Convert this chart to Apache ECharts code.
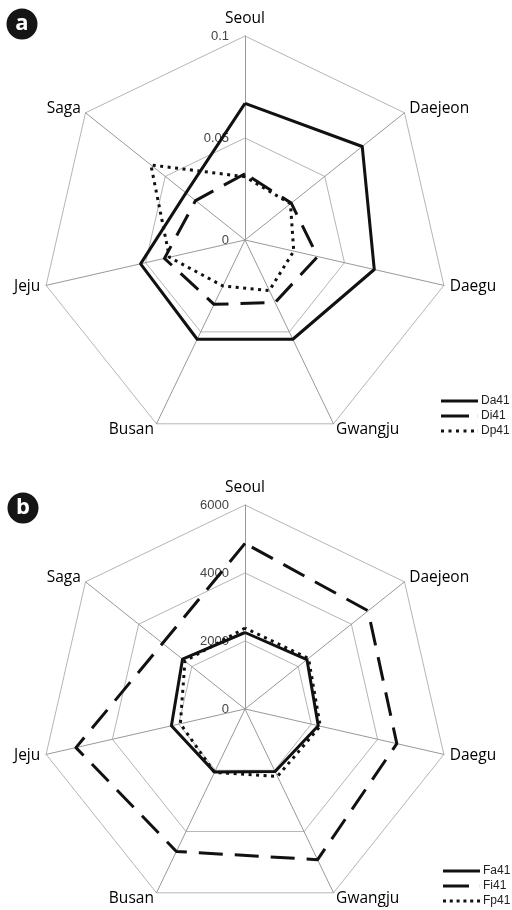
<!DOCTYPE html>
<html>
<head>
<meta charset="utf-8">
<script src="https://cdn.jsdelivr.net/npm/echarts@6/dist/echarts.min.js"></script>
<style>
html,body{margin:0;padding:0;background:#fff;}
#main{width:512px;height:910px;}
</style>
</head>
<body>
<div id="main"></div>
<script>
// Indicators, in the order ECharts lays them out (counter-clockwise from the top)
const cities = ['Seoul', 'Saga', 'Jeju', 'Busan', 'Gwangju', 'Daegu', 'Daejeon'];

// Panel a
const ticksA = [0, 0.05, 0.1];
const da41 = [0.067, 0.037, 0.0525, 0.054, 0.054, 0.065, 0.0735];
const di41 = [0.0325, 0.031, 0.0405, 0.035, 0.034, 0.0365, 0.029];
const dp41 = [0.031, 0.059, 0.038, 0.025, 0.0275, 0.0245, 0.0285];

// Panel b
const ticksB = [0, 2000, 4000, 6000];
const fa41 = [2250, 2350, 2220, 2060, 2040, 2210, 2330];
const fi41 = [4870, 3100, 5100, 4650, 4920, 4580, 4630];
const fp41 = [2380, 2260, 1950, 2070, 2200, 2270, 2390];

const namesA = ['Da41', 'Di41', 'Dp41'];
const namesB = ['Fa41', 'Fi41', 'Fp41'];

const chart = echarts.init(document.getElementById('main'), null, {renderer: 'canvas'});

function makeRadar(center, ticks) {
  const max = ticks[ticks.length - 1];
  return {
    center: center,
    radius: 204,
    startAngle: 90,
    shape: 'polygon',
    splitNumber: ticks.length - 1,
    indicator: cities.map((c, i) => i === 0
      ? {name: c, min: ticks[0], max: max, axisLabel: {show: true}}
      : {name: c, min: ticks[0], max: max}),
    axisName: {
      color: '#000',
      fontSize: 15.5,
      fontFamily: 'Open Sans',
      formatter: function (n) { return n === 'Seoul' ? '{s|' + n + '}' : n; },
      rich: {s: {fontSize: 15.5, fontFamily: 'Open Sans', color: '#000', padding: [0, 0, 3, 0]}}
    },
    nameGap: 6,
    axisLine: {lineStyle: {color: '#999', width: 1}},
    splitLine: {lineStyle: {color: '#b5b5b5', width: 1}},
    splitArea: {show: false},
    axisTick: {show: false},
    axisLabel: {
      show: false,
      color: '#444',
      fontSize: 13,
      fontFamily: 'Liberation Sans',
      margin: 16,
      formatter: function (v) { return String(v); }
    }
  };
}

const solid = {color: '#111', width: 3, type: 'solid'};
const dashed = {color: '#111', width: 3, type: [24, 12]};
const dotted = {color: '#111', width: 3, type: [3, 4.5]};

function series(radarIndex, name, values, ls) {
  return {
    type: 'radar',
    radarIndex: radarIndex,
    symbol: 'none',
    silent: true,
    itemStyle: {color: '#111'},
    lineStyle: ls,
    data: [{name: name, value: values}],
    z: 3
  };
}

const iconSolid = 'path://M0,0H37V3H0Z';
const iconDashA = 'path://M0,0H28V3H0Z M36.9,0H37V3H36.9Z';
const iconDotA = 'path://M0,0H3V3H0Z M7.5,0H10.5V3H7.5Z M15,0H18V3H15Z M22.5,0H25.5V3H22.5Z M30,0H33V3H30Z M36.9,0H37V3H36.9Z';
const iconDashB = 'path://M0,0H26V3H0Z M36.9,0H37V3H36.9Z';
const iconDotB = 'path://M0,0H3V3H0Z M6.8,0H9.8V3H6.8Z M13.6,0H16.6V3H13.6Z M20.4,0H23.4V3H20.4Z M27.2,0H30.2V3H27.2Z M34,0H37V3H34Z';

function legend(names, icons, left, top) {
  return {
    orient: 'vertical',
    left: left,
    top: top,
    padding: 0,
    itemGap: 3,
    itemWidth: 37,
    itemHeight: 3,
    selectedMode: false,
    itemStyle: {color: '#111', borderWidth: 0},
    textStyle: {color: '#222', fontSize: 12, fontFamily: 'Liberation Sans', padding: [0, 0, 0, -2]},
    data: names.map((n, i) => ({name: n, icon: icons[i]}))
  };
}

function badge(letter, cx, cy) {
  return [
    {type: 'circle', shape: {cx: cx, cy: cy, r: 15.5}, style: {fill: '#151515'}, z: 10},
    {type: 'text', x: cx, y: cy, style: {text: letter, fill: '#fff', font: 'bold 22px "Open Sans"', align: 'center', verticalAlign: 'middle'}, z: 11}
  ];
}

chart.setOption({
  backgroundColor: '#fff',
  animation: false,
  radar: [makeRadar([245, 240], ticksA), makeRadar([245, 709], ticksB)],
  legend: [
    legend(namesA, [iconSolid, iconDashA, iconDotA], 441, 395),
    legend(namesB, [iconSolid, iconDashB, iconDotB], 443, 865)
  ],
  graphic: badge('a', 22, 24).concat(badge('b', 23, 508)),
  series: [
    series(0, namesA[0], da41, solid),
    series(0, namesA[1], di41, dashed),
    series(0, namesA[2], dp41, dotted),
    series(1, namesB[0], fa41, solid),
    series(1, namesB[1], fi41, dashed),
    series(1, namesB[2], fp41, dotted)
  ]
});
</script>
</body>
</html>
